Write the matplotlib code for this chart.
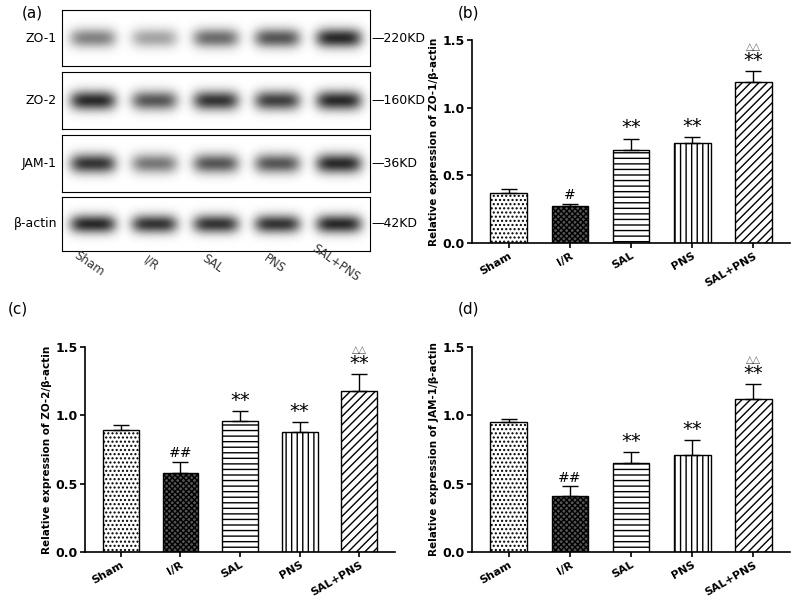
import numpy as np
import matplotlib
matplotlib.use("Agg")
import matplotlib.pyplot as plt

groups = ["Sham", "I/R", "SAL", "PNS", "SAL+PNS"]
zo1_mean = [0.37, 0.27, 0.69, 0.74, 1.19]
zo1_err = [0.03, 0.02, 0.08, 0.04, 0.08]
zo2_mean = [0.89, 0.58, 0.96, 0.88, 1.18]
zo2_err = [0.04, 0.08, 0.07, 0.07, 0.12]
jam_mean = [0.95, 0.41, 0.65, 0.71, 1.12]
jam_err = [0.02, 0.07, 0.08, 0.11, 0.11]
zo1_sig = ["", "#", "**", "**", "**"]
zo2_sig = ["", "##", "**", "**", "**"]
jam_sig = ["", "##", "**", "**", "**"]
blot_rows = ["ZO-1", "ZO-2", "JAM-1", "β-actin"]
blot_sizes = ["220KD", "160KD", "36KD", "42KD"]
blot_int = [[0.55, 0.4, 0.65, 0.75, 0.95],
            [0.95, 0.75, 0.9, 0.85, 0.95],
            [0.9, 0.6, 0.75, 0.75, 0.95],
            [0.95, 0.9, 0.9, 0.9, 0.95]]

W, H = 800, 614
fig = plt.figure(figsize=(8, 6.14), dpi=100)
plt.rcParams['font.family'] = 'DejaVu Sans'
hatches = ['....', 'xxxxxx', '---', '|||', '////']
faces = ['white', '#555555', 'white', 'white', 'white']

def ax_px(x0, y0, x1, y1):
    return fig.add_axes([x0 / W, 1 - y1 / H, (x1 - x0) / W, (y1 - y0) / H])

# Blot panel
fig.text(22 / W, 1 - 5 / H, "(a)", fontsize=11, va='top')
row_y = [(10, 66), (72, 129), (135, 192), (197, 251)]
xs = np.linspace(0, 1, 400)
ys = np.linspace(-1, 1, 60)
X, Y = np.meshgrid(xs, ys)
for r, (y0, y1) in enumerate(row_y):
    a = ax_px(62, y0, 370, y1)
    img = np.zeros_like(X)
    for i, v in enumerate(blot_int[r]):
        cx = (i + 0.5) / 5
        img += v * np.exp(-((X - cx) / 0.075) ** 4 - (Y / 0.35) ** 2)
    img = np.clip(img, 0, 1)
    a.imshow(1 - 0.88 * img, cmap='gray', vmin=0, vmax=1, aspect='auto',
             extent=[0, 1, -1, 1])
    a.set_xticks([]); a.set_yticks([])
    ym = 1 - (y0 + y1) / 2 / H
    fig.text(57 / W, ym, blot_rows[r], ha='right', va='center', fontsize=9)
    fig.text(371 / W, ym, "—" + blot_sizes[r], ha='left', va='center', fontsize=9)
for i, g in enumerate(groups):
    fig.text((62 + (i + 0.5) * 308 / 5) / W, 1 - 258 / H, g, rotation=-35,
             ha='center', va='top', fontsize=8.5, color='#333333', rotation_mode='anchor')

def bars(ax, mean, err, sig, ylabel, dagger):
    x = np.arange(len(groups))
    for i in x:
        ax.bar(i, mean[i], 0.6, color=faces[i], edgecolor='black', hatch=hatches[i], linewidth=1)
        ax.errorbar(i, mean[i], yerr=[[0], [err[i]]], color='black', capsize=6, linewidth=1)
        if sig[i]:
            ax.text(i, mean[i] + err[i] + 0.01, sig[i], ha='center', va='bottom',
                    fontsize=14 if '*' in sig[i] else 10)
    if dagger:
        ax.text(4, mean[4] + err[4] + 0.14, "△△", ha='center', va='bottom', fontsize=7, color='#555555')
    ax.set_ylim(0, 1.5)
    ax.set_xlim(-0.6, 4.6)
    ax.set_yticks([0, 0.5, 1.0, 1.5])
    ax.set_xticks(x)
    ax.set_xticklabels(groups, rotation=30, fontweight='bold', fontsize=8, ha='right', rotation_mode='anchor')
    ax.set_ylabel(ylabel, fontweight='bold', fontsize=7.5, labelpad=2)
    for t in ax.get_yticklabels():
        t.set_fontweight('bold')
        t.set_fontsize(9)
    ax.spines['top'].set_visible(False)
    ax.spines['right'].set_visible(False)
    ax.tick_params(width=1.2, pad=2)
    for s in ['left', 'bottom']:
        ax.spines[s].set_linewidth(1.2)

ab = ax_px(472, 40, 790, 243)
bars(ab, zo1_mean, zo1_err, zo1_sig, "Relative expression of ZO-1/β-actin", True)
fig.text(458 / W, 1 - 5 / H, "(b)", fontsize=11, va='top')
ac = ax_px(85, 347, 395, 552)
bars(ac, zo2_mean, zo2_err, zo2_sig, "Relative expression of ZO-2/β-actin", True)
fig.text(8 / W, 1 - 302 / H, "(c)", fontsize=11, va='top')
ad = ax_px(472, 347, 790, 552)
bars(ad, jam_mean, jam_err, jam_sig, "Relative expression of JAM-1/β-actin", True)
fig.text(458 / W, 1 - 302 / H, "(d)", fontsize=11, va='top')

fig.savefig("out.png", dpi=100)
